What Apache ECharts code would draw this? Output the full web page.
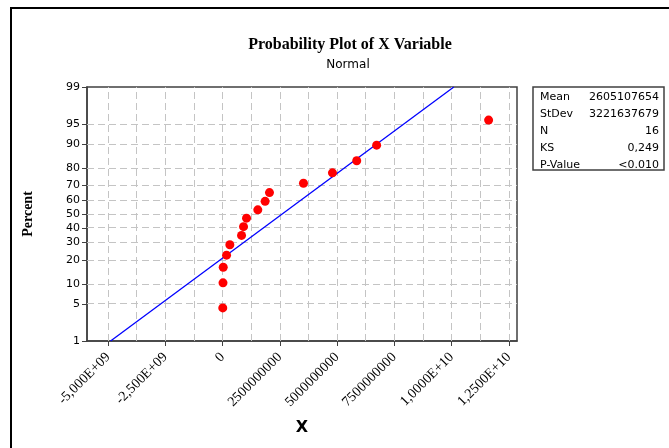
<!DOCTYPE html>
<html>
<head>
<meta charset="utf-8">
<script src="https://cdn.jsdelivr.net/npm/echarts@6/dist/echarts.min.js"></script>
<style>
  html, body { margin: 0; padding: 0; background: #fff; }
  #chart { width: 669px; height: 448px; }
</style>
</head>
<body>
<div id="chart"></div>
<script>
// observed values (x) and their plotting positions (percent)
const xValues = [1e7, 2e7, 3e7, 1.75e8, 3.19e8, 8.29e8, 9.16e8, 1.047e9, 1.54e9, 1.859e9, 2.05e9, 3.534e9, 4.80e9, 5.86e9, 6.73e9, 1.162e10];
const percents = [4.27, 10.37, 16.46, 22.56, 28.66, 34.76, 40.85, 46.95, 53.05, 59.15, 65.24, 71.34, 77.44, 83.54, 89.63, 95.73];

// fitted normal line, endpoints at 1% and 99%
const fitX = [-4.89e9, 1.01e10];
const fitP = [1, 99];

const yTickPercents = [1, 5, 10, 20, 30, 40, 50, 60, 70, 80, 90, 95, 99];
const xTicks = [-5e9, -2.5e9, 0, 2.5e9, 5e9, 7.5e9, 1e10, 1.25e10];
const xTickLabels = ['-5,000E+09', '-2,500E+09', '0', '2500000000', '5000000000', '7500000000', '1,0000E+10', '1,2500E+10'];
const xGridLines = [-5e9, -3.75e9, -2.5e9, -1.25e9, 0, 1.25e9, 2.5e9, 3.75e9, 5e9, 6.25e9, 7.5e9, 8.75e9, 1e10, 1.125e10, 1.25e10];

const statNames = ['Mean', 'StDev', 'N', 'KS', 'P-Value'];
const statValues = ['2605107654', '3221637679', '16', '0,249', '<0.010'];

// inverse standard normal (Acklam)
function probit(p) {
  const a = [-3.969683028665376e+01, 2.209460984245205e+02, -2.759285104469687e+02, 1.383577518672690e+02, -3.066479806614716e+01, 2.506628277459239e+00];
  const b = [-5.447609879822406e+01, 1.615858368580409e+02, -1.556989798598866e+02, 6.680131188771972e+01, -1.328068155288572e+01];
  const c = [-7.784894002430293e-03, -3.223964580411365e-01, -2.400758277161838e+00, -2.549732539343734e+00, 4.374664141464968e+00, 2.938163982698783e+00];
  const d = [7.784695709041462e-03, 3.224671290700398e-01, 2.445134137142996e+00, 3.754408661907416e+00];
  const plow = 0.02425;
  let q, r;
  if (p < plow) {
    q = Math.sqrt(-2 * Math.log(p));
    return (((((c[0]*q+c[1])*q+c[2])*q+c[3])*q+c[4])*q+c[5]) / ((((d[0]*q+d[1])*q+d[2])*q+d[3])*q+1);
  }
  if (p <= 1 - plow) {
    q = p - 0.5; r = q * q;
    return (((((a[0]*r+a[1])*r+a[2])*r+a[3])*r+a[4])*r+a[5])*q / (((((b[0]*r+b[1])*r+b[2])*r+b[3])*r+b[4])*r+1);
  }
  q = Math.sqrt(-2 * Math.log(1 - p));
  return -(((((c[0]*q+c[1])*q+c[2])*q+c[3])*q+c[4])*q+c[5]) / ((((d[0]*q+d[1])*q+d[2])*q+d[3])*q+1);
}
const z = pct => probit(pct / 100);

const yTickZ = yTickPercents.map(z);
const yMin = z(1), yMax = z(99);

const sansFont = 'DejaVu Sans';
const serifFont = 'Liberation Serif';
const gridStyle = { color: '#c4c4c4', type: [7, 4], width: 1 };

const chart = echarts.init(document.getElementById('chart'));

const option = {
  backgroundColor: '#fff',
  animation: false,
  textStyle: { fontFamily: serifFont },
  title: [
    {
      text: 'Probability Plot of X Variable',
      left: 345, top: 32, textAlign: 'center',
      textStyle: { fontFamily: serifFont, fontWeight: 'bold', fontSize: 16, color: '#000' }
    },
    {
      text: 'Normal',
      left: 343, top: 54, textAlign: 'center',
      textStyle: { fontFamily: sansFont, fontWeight: 'normal', fontSize: 12, color: '#000' }
    }
  ],
  grid: {
    left: 87, top: 87, width: 430, height: 254,
    show: true, borderColor: '#404040', borderWidth: 1.5, backgroundColor: '#fff'
  },
  xAxis: {
    type: 'value',
    min: -5.92e9, max: 1.286e10,
    name: 'X', nameLocation: 'middle', nameGap: 79,
    nameTextStyle: { fontFamily: sansFont, fontWeight: 'bold', fontSize: 16, color: '#000' },
    axisLine: { show: true, onZero: false, lineStyle: { color: '#404040', width: 1.5 } },
    axisTick: { show: true, length: 5, customValues: xTicks, lineStyle: { color: '#404040' } },
    axisLabel: {
      customValues: xTicks, rotate: 45, margin: 14,
      fontFamily: serifFont, fontSize: 14, color: '#000',
      formatter: v => {
        const i = xTicks.findIndex(t => Math.abs(t - v) < 1e6);
        return i >= 0 ? xTickLabels[i] : '';
      }
    },
    splitLine: { show: false }
  },
  yAxis: {
    type: 'value',
    min: yMin, max: yMax,
    name: 'Percent', nameLocation: 'middle', nameGap: 52, nameRotate: 90,
    nameTextStyle: { fontFamily: serifFont, fontWeight: 'bold', fontSize: 14, color: '#000' },
    axisLine: { show: true, onZero: false, lineStyle: { color: '#404040', width: 1.5 } },
    axisTick: { show: true, length: 5, customValues: yTickZ, lineStyle: { color: '#404040' } },
    axisLabel: {
      customValues: yTickZ, margin: 7,
      fontFamily: sansFont, fontSize: 11, color: '#000',
      formatter: v => {
        let best = 0;
        yTickZ.forEach((t, i) => { if (Math.abs(t - v) < Math.abs(yTickZ[best] - v)) best = i; });
        return String(yTickPercents[best]);
      }
    },
    splitLine: { show: false }
  },
  series: [
    {
      name: 'grid',
      type: 'line',
      data: [],
      silent: true,
      z: 1,
      markLine: {
        silent: true, symbol: 'none', animation: false, z: 1,
        label: { show: false },
        lineStyle: gridStyle,
        data: xGridLines.map(v => ({ xAxis: v }))
          .concat(yTickZ.slice(1, -1).map(v => ({ yAxis: v })))
      }
    },
    {
      name: 'fit',
      type: 'line',
      data: fitX.map((x, i) => [x, z(fitP[i])]),
      symbol: 'none',
      lineStyle: { color: '#0000ff', width: 1.3 },
      z: 4
    },
    {
      name: 'data',
      type: 'scatter',
      data: xValues.map((x, i) => [x, z(percents[i])]),
      symbolSize: 9,
      itemStyle: { color: '#ff0000', opacity: 1 },
      z: 6
    }
  ],
  graphic: [
    {
      type: 'rect',
      shape: { x: 11, y: 8, width: 700, height: 500 },
      style: { fill: 'none', stroke: '#000', lineWidth: 2 },
      silent: true
    },
    {
      type: 'rect',
      shape: { x: 533, y: 87, width: 131, height: 83 },
      style: { fill: '#fff', stroke: '#404040', lineWidth: 1.5 },
      silent: true
    }
  ].concat(statNames.map((n, i) => ({
    type: 'text', x: 540, y: 97 + i * 17,
    style: { text: n, fontFamily: sansFont, fontSize: 11, fill: '#000', textVerticalAlign: 'middle' }
  }))).concat(statValues.map((v, i) => ({
    type: 'text', x: 659, y: 97 + i * 17,
    style: { text: v, fontFamily: sansFont, fontSize: 11, fill: '#000', textAlign: 'right', textVerticalAlign: 'middle' }
  })))
};

chart.setOption(option);
</script>
</body>
</html>
